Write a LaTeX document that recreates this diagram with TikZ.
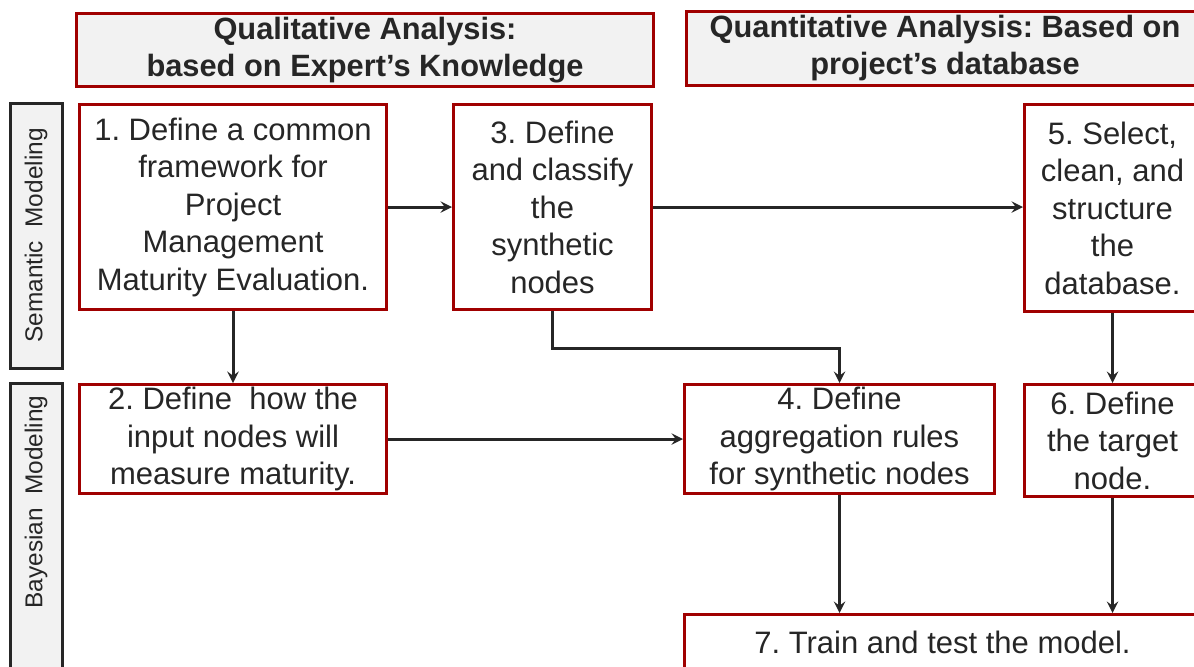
\documentclass[tikz,border=0pt]{standalone}
\usepackage{fontspec}
\setmainfont{Liberation Sans}
\frenchspacing
\usepackage{tikz}
\usetikzlibrary{arrows,calc}
\usetikzlibrary{positioning}
\definecolor{boxred}{RGB}{160,0,0}
\definecolor{ink}{HTML}{262626}
\definecolor{panel}{HTML}{F2F2F2}
\tikzstyle{hdr}=[draw=boxred,line width=1.5pt,fill=panel,text=ink,align=center,
               anchor=north west,inner sep=0pt,
               font=\fontsize{15.4}{18.5}\selectfont\bfseries]
\tikzstyle{stage}=[draw=boxred,line width=1.5pt,fill=white,text=ink,align=center,
               anchor=north west,inner sep=0pt,
               font=\fontsize{15.5}{18.75}\selectfont]
\tikzstyle{side}=[draw=ink,line width=1.5pt,fill=panel,inner sep=0pt]
\tikzstyle{sidetext}=[rotate=90,text=ink,inner sep=0pt,font=\fontsize{12.2}{14}\selectfont]
\tikzstyle{flow}=[->,>=stealth,line width=1.5pt,draw=ink]

\begin{document}
\begin{tikzpicture}[x=0.5pt,y=-0.5pt]
        \useasboundingbox (0,0) rectangle (1194,666);
        \clip (0,0) rectangle (1194,666);
        \node [hdr,minimum width=288.5pt,minimum height=36.5pt] (qual) at (75,12)
              {Qualitative Analysis:\\based on Expert's Knowledge};
        \node [hdr,minimum width=258.5pt,minimum height=37pt] (quant) at (685,10)
              {Quantitative Analysis: Based on\\project's database};
        \node [side,sidetext,minimum width=132.5pt,minimum height=26pt] (sem) at (36,235.5)
              {Semantic\ \ Modeling};
        \node [side,minimum width=26pt,minimum height=148.5pt] (bay) at (36,531.5) {};
        \node [sidetext] (baytext) at (36,502) {Bayesian\ \ Modeling};
        \node [stage,minimum width=153.5pt,minimum height=102.5pt] (s1) at (78,103)
              {1. Define a common\\framework for\\Project\\Management\\Maturity Evaluation.};
        \node [stage,minimum width=99pt,minimum height=102.5pt] (s3) at (452,103)
              {3. Define\\and classify\\the\\synthetic\\nodes};
        \node [stage,minimum width=88pt,minimum height=103.5pt] (s5) at (1023,103)
              {5. Select,\\clean, and\\structure\\the\\database.};
        \node [stage,minimum width=153.5pt,minimum height=54.5pt] (s2) at (78,383)
              {2. Define\ \ how the\\input nodes will\\measure maturity.};
        \node [stage,minimum width=155pt,minimum height=54.5pt] (s4) at (683,383)
              {4. Define\\aggregation rules\\for synthetic nodes};
        \node [stage,minimum width=88pt,minimum height=56pt] (s6) at (1023,383)
              {6. Define\\the target\\node.};
        \node [stage,minimum width=258pt,minimum height=28pt] (s7) at (683,613)
              {7. Train and test the model.};
        \draw [flow] (s1) -- (s3);
        \draw [flow] (s3.east) -- (s3.east -| s5.west);
        \draw [flow] (s1) -- (s2);
        \draw [flow] (s3.south) -- ++(0,37.5) -| (s4.north);
        \draw [flow] (s5) -- (s6);
        \draw [flow] (s2) -- (s4);
        \draw [flow] (s4.south) -- (s4.south |- s7.north);
        \draw [flow] (s6.south) -- (s6.south |- s7.north);
    \end{tikzpicture}
\end{document}
